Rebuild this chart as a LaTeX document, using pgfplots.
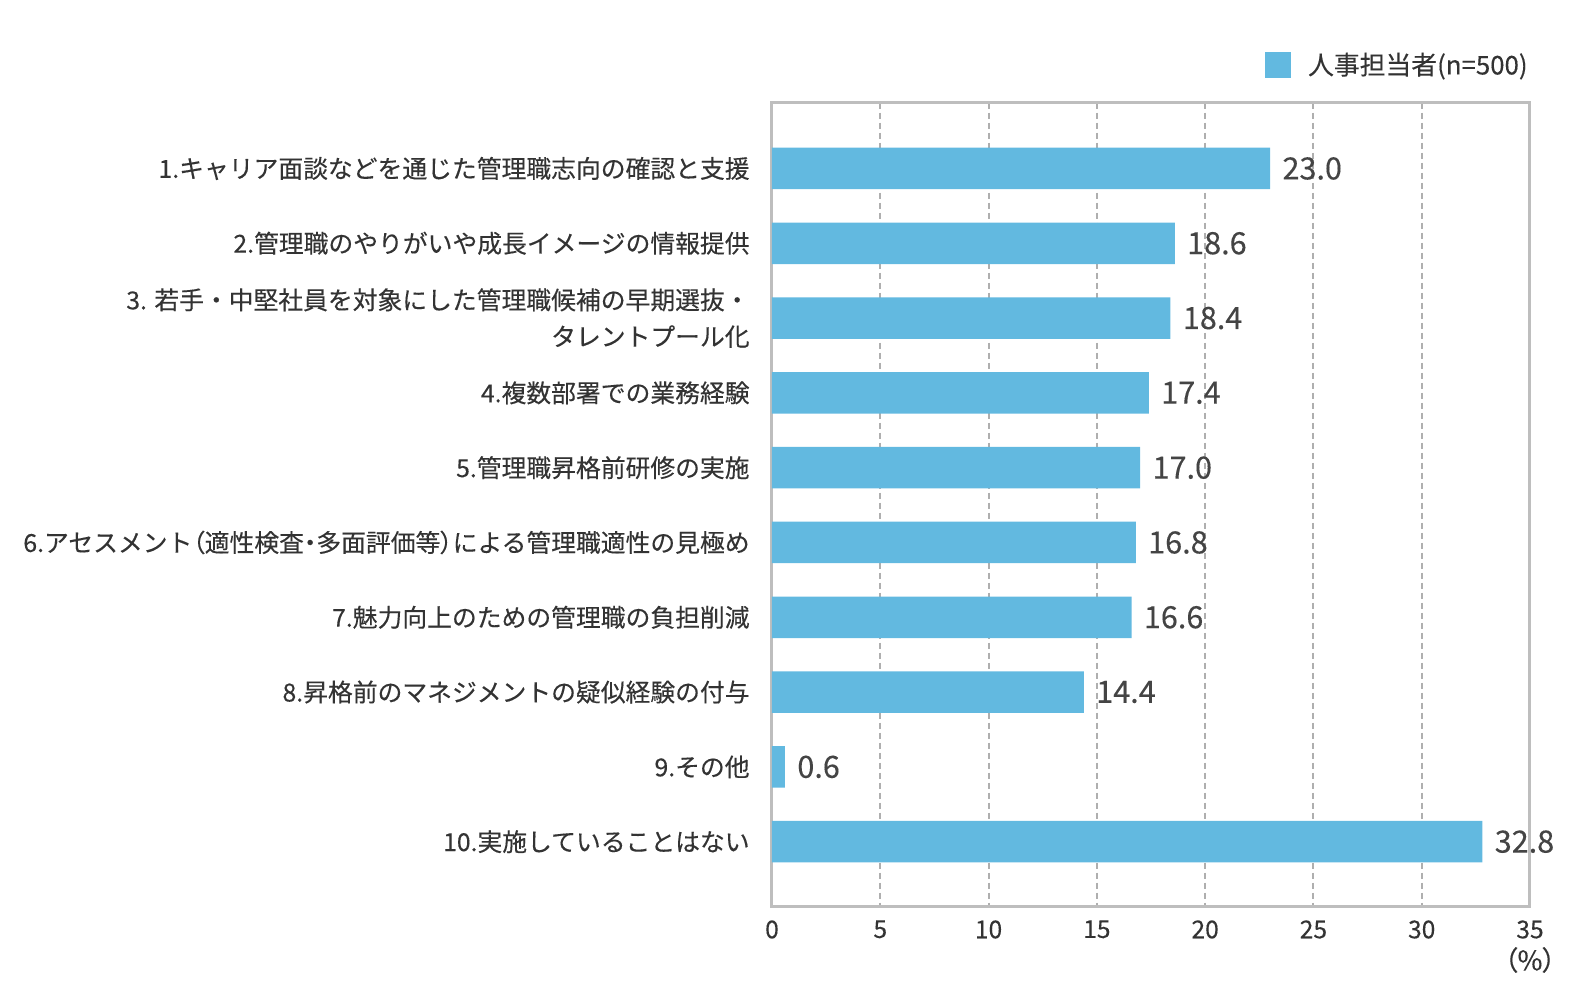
\documentclass[border=0pt]{standalone}
\usepackage{fontspec}
\setmainfont{Noto Sans CJK JP}[FakeBold=0.25]
\newfontfamily\palt{Noto Sans CJK JP}[FakeBold=0.25,RawFeature=+palt]
\usepackage{pgfplots}
\pgfplotsset{compat=1.18}
\definecolor{barc}{HTML}{62B9E0}
\definecolor{axc}{HTML}{BEBEBE}
\definecolor{gridc}{HTML}{AFAFAF}
\definecolor{txt}{HTML}{333333}
\definecolor{vtxt}{HTML}{444444}
\begin{document}
\begin{tikzpicture}
\begin{axis}[
  at={(0,0)}, anchor=south west,
  scale only axis, width=379bp, height=401.75bp,
  xbar, bar width=20.75bp, bar shift=0pt,
  xmin=0, xmax=35, xtick={0,5,...,35},
  ymin=-0.882, ymax=9.86, y dir=reverse,
  ytick={0,...,9},
  yticklabels={
    {1.キャリア面談などを通じた管理職志向の確認と支援},
    {2.管理職のやりがいや成長イメージの情報提供},
    {3. 若手・中堅社員を対象にした管理職候補の早期選抜・\\タレントプール化},
    {4.複数部署での業務経験},
    {5.管理職昇格前研修の実施},
    {6.アセスメント{\palt （}適性検査{\palt ・}多面評価等{\palt ）}による管理職適性の見極め},
    {7.魅力向上のための管理職の負担削減},
    {8.昇格前のマネジメントの疑似経験の付与},
    {9.その他},
    {10.実施していることはない}},
  yticklabel style={font=\fontsize{12.4bp}{18.3bp}\selectfont, text=txt, align=right, inner sep=0pt, xshift=-11bp},
  xticklabel style={font=\fontsize{12.3bp}{14bp}\selectfont, text=txt, inner sep=0pt, yshift=-7bp},
  /pgf/number format/assume math mode=true,
  major tick length=0pt,
  axis line style={draw=axc, line width=1.5bp},
  xmajorgrids, major grid style={draw=gridc, line width=1bp, dash pattern=on 3bp off 2bp},
  xlabel={{\palt （}\%{\palt ）}},
  xlabel style={at={(rel axis cs:1,0)}, anchor=center, yshift=-27bp, font=\fontsize{13.5bp}{15bp}\selectfont, text=txt, inner sep=0pt},
  clip=false,
  nodes near coords={\pgfmathprintnumber[fixed, fixed zerofill, precision=1, assume math mode=true]{\pgfplotspointmeta}},
  every node near coord/.append style={anchor=west, inner sep=0pt, xshift=6bp, font=\fontsize{15.3bp}{17bp}\selectfont, text=vtxt},
  legend style={at={(rel axis cs:1,1)}, anchor=south east, xshift=-1bp, yshift=12bp, draw=none, fill=none, inner sep=0pt, column sep=8.5bp, nodes={inner sep=0pt}, font=\fontsize{12.9bp}{14bp}\selectfont, text=txt},
  legend image code/.code={\fill[barc] (0bp,-6.5bp) rectangle (13.25bp,6.5bp);},
]
\addplot[fill=barc, draw=none] coordinates {
  (23.0,0) (18.6,1) (18.4,2) (17.4,3) (17.0,4) (16.8,5) (16.6,6) (14.4,7) (0.6,8) (32.8,9)
};
\addlegendentry{人事担当者(n=500)}
\end{axis}
\pgfresetboundingbox
\path[use as bounding box] (-386bp,-49.5bp) rectangle (404bp,453bp);
\end{tikzpicture}
\end{document}
